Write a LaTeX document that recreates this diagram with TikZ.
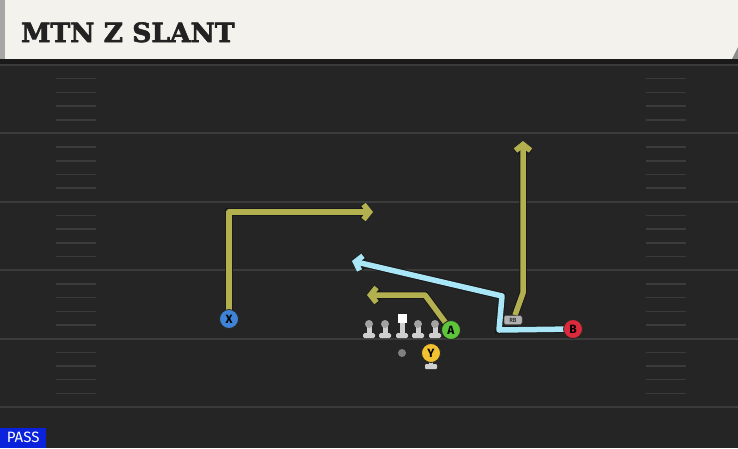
\documentclass[tikz,border=0pt]{standalone}
\usepackage{fontspec}
\setmainfont{Fira Sans}
\newfontfamily\titlefont{DejaVu Serif Bold}[FakeBold=2.5]
\usetikzlibrary{arrows.meta}
\definecolor{fieldDark}{HTML}{252525}
\definecolor{bandDark}{HTML}{1A1A1A}
\definecolor{lineGray}{HTML}{3B3B3B}
\definecolor{headerCream}{HTML}{F4F2EC}
\definecolor{titleInk}{HTML}{222222}
\definecolor{routeOlive}{HTML}{B3B14F}
\definecolor{routeBlue}{HTML}{A9E6F7}
\definecolor{passBlue}{HTML}{0B22DD}
\definecolor{lmBody}{HTML}{CFCFCF}
\definecolor{lmHead}{HTML}{A3A3A3}
\definecolor{xBlue}{HTML}{3F83D6}
\definecolor{aGreen}{HTML}{5EC43C}
\definecolor{bRed}{HTML}{DA2A3B}
\definecolor{yGold}{HTML}{F1C12F}
\pgfdeclarelayer{back}
\pgfdeclarelayer{routes}
\pgfsetlayers{back,routes,main}
\tikzset{
  lineman/.pic={
    \fill[lmBody] (-2.5,0) rectangle (2.5,10);
    \fill[lmBody, rounded corners=1.5pt] (-6,9) rectangle (6,14);
    \fill[lmHead] (0,0) circle (4);
  },
  centerman/.pic={
    \fill[lmBody] (-2.5,-2) rectangle (2.5,10);
    \fill[lmBody, rounded corners=1.5pt] (-6,9) rectangle (6,14);
    \fill[white] (-4.5,-10) rectangle (4.5,-1);
  }
}
\begin{document}
\begin{tikzpicture}[x=1pt, y=-1pt,
  yardline/.style={draw=lineGray, line width=2pt},
  hashmark/.style={draw=lineGray, line width=1.5pt},
  route/.style={draw=routeOlive, line width=5.5pt, line join=round,
    -{Straight Barb[length=6pt, width=15pt]},
    preaction={draw=black!90, line width=7.5pt}},
  blueroute/.style={route, draw=routeBlue},
  player/.style={circle, draw=black!85, line width=0.8pt, minimum size=19pt,
    inner sep=0pt, font=\bfseries\fontsize{12}{12}\selectfont, text=black}]
  \useasboundingbox (0,0) rectangle (738,448);
  \begin{pgfonlayer}{back}
    \fill[fieldDark] (0,59) rectangle (738,448);
    \fill[headerCream] (0,0) rectangle (738,59);
    \fill[black!35] (0,0) rectangle (5,59);
    \fill[black!45] (732,59) -- (738,47) -- (738,59) -- cycle;
    \fill[bandDark] (0,59) rectangle (738,64);
    \foreach \k in {0,...,5}
      \draw[yardline] (0,65+68.4*\k) -- (738,65+68.4*\k);
    \foreach \k in {0,...,4}
      \foreach \h in {1,...,4} {
        \draw[hashmark] (56,65+68.4*\k+13.7*\h) -- (96,65+68.4*\k+13.7*\h);
        \draw[hashmark] (646,65+68.4*\k+13.7*\h) -- (686,65+68.4*\k+13.7*\h);
      }
  \end{pgfonlayer}

  \node[anchor=base west, inner sep=0pt, text=titleInk,
    font=\titlefont\fontsize{26.5}{26.5}\selectfont] (title) at (21,42) {MTN Z SLANT};
  \node[anchor=south west, fill=passBlue, text=white, minimum width=46pt,
    minimum height=20pt, inner sep=0pt, font=\fontsize{15}{15}\selectfont] (pass) at (0,448) {PASS};

  \pic (lt) at (369,324) {lineman};
  \pic (lg) at (385,324) {lineman};
  \pic (ctr) at (402,324) {centerman};
  \pic (rg) at (418,324) {lineman};
  \pic (rt) at (435,324) {lineman};
  \node[circle, fill=black!50, minimum size=8pt, inner sep=0pt] (qb) at (402,353) {};
  \node[player, fill=xBlue] (X) at (229,319) {X};
  \node[player, fill=aGreen] (A) at (451,330) {A};
  \node[player, fill=bRed] (B) at (573,329) {B};
  \node[player, fill=yGold] (Y) at (431,353) {Y};
  \node[fill=lmBody!85!black, draw=black!70, line width=0.5pt, rounded corners=2pt,
    minimum width=18pt, minimum height=9pt, inner sep=0pt,
    font=\fontsize{6}{6}\selectfont] (RB) at (513,320) {RB};

  \begin{pgfonlayer}{routes}
    \fill[lmBody] (429,360) rectangle (433,366);
    \fill[lmBody, rounded corners=1pt] (425,364) rectangle (437,369);
    \draw[route] (X.center) |- (373,212);
    \draw[route] (A.center) -- (425,295) -- (367,295);
    \draw[route] ([xshift=2pt]RB.north) -- (523,293) -- (523,141);
    \draw[blueroute] (B.center) -- (499,330) -- (502,296) -- (352,261);
  \end{pgfonlayer}
\end{tikzpicture}
\end{document}
